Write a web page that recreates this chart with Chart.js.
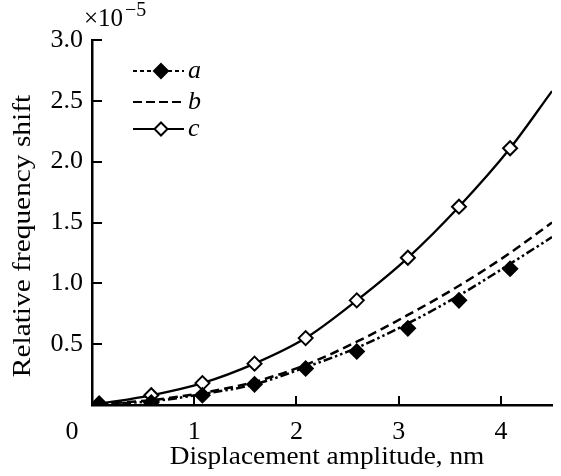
<!DOCTYPE html>
<html>
<head>
<meta charset="utf-8">
<script src="https://cdn.jsdelivr.net/npm/chart.js@4.4.1/dist/chart.umd.min.js"></script>
<style>
  html, body { margin: 0; padding: 0; background: #fff; }
  #wrap { width: 561px; height: 476px; }
</style>
</head>
<body>
<div id="wrap"><canvas id="c" width="561" height="476"></canvas></div>
<script>
// ---- data (y in units of 1e-5) ----
const markerX = [0.07, 0.58, 1.08, 1.59, 2.09, 2.59, 3.09, 3.59, 4.09];
const markersA = [0.01, 0.02, 0.08, 0.17, 0.30, 0.44, 0.63, 0.86, 1.12];
const markersC = [0.01, 0.08, 0.18, 0.34, 0.55, 0.86, 1.21, 1.63, 2.11];
const curveX = [0.07, 0.58, 1.08, 1.59, 2.09, 2.59, 3.09, 3.59, 4.09, 4.5];
const curveA = [0.01, 0.03, 0.09, 0.17, 0.31, 0.47, 0.67, 0.90, 1.16, 1.38];
const curveB = [0.01, 0.04, 0.10, 0.19, 0.33, 0.52, 0.74, 0.98, 1.25, 1.50];
const curveC = [0.01, 0.08, 0.18, 0.34, 0.55, 0.86, 1.21, 1.63, 2.11, 2.58];
const seriesLabels = ['a', 'b', 'c'];
const xTitle = 'Displacement amplitude, nm';
const yTitle = 'Relative frequency shift';
const yExponent = '\u22125';

const FONT = '"Liberation Serif", "Times New Roman", serif';
Chart.defaults.font.family = FONT;
Chart.defaults.color = '#000';

const pts = (xs, ys) => xs.map((x, i) => ({ x: x, y: ys[i] }));

function diamond(ctx, x, y, r, filled) {
  ctx.save();
  ctx.setLineDash([]);
  ctx.beginPath();
  ctx.moveTo(x, y - r); ctx.lineTo(x + r, y); ctx.lineTo(x, y + r); ctx.lineTo(x - r, y);
  ctx.closePath();
  ctx.fillStyle = filled ? '#000' : '#fff';
  ctx.fill();
  ctx.lineWidth = 2;
  ctx.strokeStyle = '#000';
  ctx.stroke();
  ctx.restore();
}

function stretchedText(ctx, text, x, y, rot, sx) {
  ctx.save();
  ctx.translate(x, y);
  ctx.rotate(rot);
  ctx.scale(sx, 1);
  ctx.textAlign = 'center';
  ctx.textBaseline = 'middle';
  ctx.fillText(text, 0, 0);
  ctx.restore();
}

const decor = {
  id: 'decor',
  afterDraw(chart) {
    const ctx = chart.ctx;
    const xs = chart.scales.x, ys = chart.scales.y;
    const ca = chart.chartArea;
    ctx.save();
    ctx.strokeStyle = '#000';
    ctx.lineWidth = 2;
    ctx.setLineDash([]);
    // inward ticks
    xs.ticks.forEach(t => {
      if (t.value === 0) return;
      const px = Math.round(xs.getPixelForValue(t.value));
      ctx.beginPath(); ctx.moveTo(px, ca.bottom); ctx.lineTo(px, ca.bottom - 9); ctx.stroke();
    });
    ys.ticks.forEach(t => {
      if (t.value === 0) return;
      const py = Math.round(ys.getPixelForValue(t.value));
      ctx.beginPath(); ctx.moveTo(ca.left, py); ctx.lineTo(ca.left + 10, py); ctx.stroke();
    });
    ctx.fillStyle = '#000';
    // origin label
    ctx.font = '26px ' + FONT;
    ctx.textAlign = 'center';
    ctx.textBaseline = 'middle';
    ctx.fillText('0', xs.getPixelForValue(0) - 20, 432);
    // exponent
    ctx.textAlign = 'left';
    ctx.textBaseline = 'alphabetic';
    ctx.font = '25px ' + FONT;
    ctx.fillText('\u00d710', 84, 26);
    ctx.font = '20px ' + FONT;
    ctx.fillText(yExponent, 125, 16);
    // axis titles
    ctx.font = '26px ' + FONT;
    stretchedText(ctx, yTitle, 23, 236, -Math.PI / 2, 1.13);
    stretchedText(ctx, xTitle, 327, 457, 0, 1.05);
    // legend
    const rows = [
      { y: 71, dash: [4, 3], marker: 'filled' },
      { y: 102, dash: [9, 4], marker: null },
      { y: 129, dash: [], marker: 'open' }
    ];
    rows.forEach((r, i) => {
      ctx.save();
      ctx.lineWidth = 2.2;
      ctx.setLineDash(r.dash);
      ctx.beginPath(); ctx.moveTo(133, r.y); ctx.lineTo(184, r.y); ctx.stroke();
      ctx.restore();
      if (r.marker) diamond(ctx, 161, r.y, r.marker === 'filled' ? 7 : 6.5, r.marker === 'filled');
      ctx.font = 'italic 26px ' + FONT;
      ctx.textAlign = 'left';
      ctx.textBaseline = 'middle';
      ctx.fillStyle = '#000';
      ctx.fillText(seriesLabels[i], 188, r.y);
    });
    ctx.restore();
  }
};

new Chart(document.getElementById('c'), {
  type: 'scatter',
  data: {
    datasets: [
      { label: 'a markers', data: pts(markerX, markersA), showLine: false,
        pointStyle: 'rectRot', pointRadius: 7.5, pointBackgroundColor: '#000',
        pointBorderColor: '#000', pointBorderWidth: 1.5, order: 0 },
      { label: 'c markers', data: pts(markerX, markersC), showLine: false,
        pointStyle: 'rectRot', pointRadius: 7, pointBackgroundColor: '#fff',
        pointBorderColor: '#000', pointBorderWidth: 2, order: 1 },
      { label: 'a', data: pts(curveX, curveA), showLine: true, pointRadius: 0,
        borderColor: '#000', borderWidth: 2.5, borderDash: [9, 3, 2.5, 3, 2.5, 3],
        cubicInterpolationMode: 'monotone', order: 2 },
      { label: 'b', data: pts(curveX, curveB), showLine: true, pointRadius: 0,
        borderColor: '#000', borderWidth: 2.5, borderDash: [9, 5],
        cubicInterpolationMode: 'monotone', order: 3 },
      { label: 'c', data: pts(curveX, curveC), showLine: true, pointRadius: 0,
        borderColor: '#000', borderWidth: 2.3,
        cubicInterpolationMode: 'monotone', order: 4 }
    ]
  },
  options: {
    responsive: false,
    animation: false,
    devicePixelRatio: 1,
    layout: { padding: { top: 40, right: 0, left: 0, bottom: 0 } },
    plugins: { legend: { display: false }, tooltip: { enabled: false } },
    scales: {
      x: {
        type: 'linear', min: 0, max: 4.5,
        grid: { display: false, drawTicks: false },
        border: { display: true, color: '#000', width: 2.5 },
        ticks: { stepSize: 1, includeBounds: false, padding: 12, maxRotation: 0,
          font: { size: 26 }, color: '#000',
          callback: v => (v === 0 || v % 1 !== 0) ? null : String(v) },
        afterFit: s => { s.height = 71; }
      },
      y: {
        type: 'linear', min: 0, max: 3,
        grid: { display: false, drawTicks: false },
        border: { display: true, color: '#000', width: 2.5 },
        ticks: { stepSize: 0.5, padding: 9, font: { size: 26 }, color: '#000',
          callback: v => v === 0 ? null : v.toFixed(1) },
        afterFit: s => { s.width = 92; }
      }
    }
  },
  plugins: [decor]
});
</script>
</body>
</html>
